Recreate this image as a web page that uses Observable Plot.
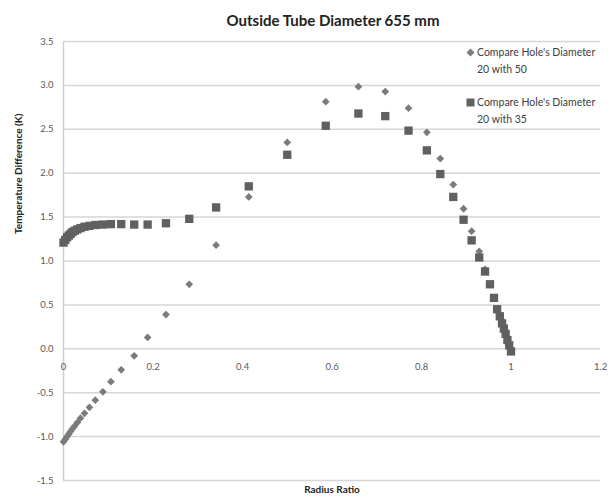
<!DOCTYPE html>
<html>
<head>
<meta charset="utf-8">
<script src="https://cdn.jsdelivr.net/npm/d3@7"></script>
<script src="https://cdn.jsdelivr.net/npm/@observablehq/plot@0.6"></script>
<style>
  html, body { margin: 0; padding: 0; background: #fff; }
  #wrap { position: relative; width: 612px; height: 502px; font-family: Lato, "Open Sans", sans-serif; }
  #legend { position: absolute; left: 466px; top: 44px; font-size: 10.5px; color: #404040; line-height: 16.5px; }
  #legend .item { position: relative; padding-left: 11px; margin-bottom: 17px; white-space: nowrap; }
  #legend svg { position: absolute; left: 0; top: 4px; }
</style>
</head>
<body>
<div id="wrap"></div>
<script>
const title = "Outside Tube Diameter 655 mm";
const xLabel = "Radius Ratio";
const yLabel = "Temperature Difference (K)";
const seriesNames = ["Compare Hole's Diameter 20 with 50", "Compare Hole's Diameter 20 with 35"];

const radiusRatio = [0, 0.004, 0.008, 0.012, 0.016, 0.020, 0.025, 0.031, 0.038, 0.047, 0.058, 0.071, 0.088, 0.106, 0.129, 0.158, 0.188, 0.229, 0.281, 0.341, 0.414, 0.500, 0.586, 0.659, 0.719, 0.771, 0.812, 0.842, 0.871, 0.894, 0.912, 0.929, 0.942, 0.953, 0.962, 0.969, 0.975, 0.980, 0.984, 0.988, 0.992, 0.996, 1.000];
const diff20vs50 = [-1.06, -1.03, -1.00, -0.97, -0.94, -0.91, -0.88, -0.84, -0.79, -0.735, -0.667, -0.585, -0.49, -0.375, -0.24, -0.08, 0.13, 0.39, 0.735, 1.18, 1.73, 2.35, 2.815, 2.985, 2.93, 2.74, 2.466, 2.167, 1.87, 1.595, 1.34, 1.11, 0.905, 0.735, 0.58, 0.45, 0.37, 0.29, 0.23, 0.17, 0.10, 0.04, -0.03];
const diff20vs35 = [1.21, 1.24, 1.27, 1.29, 1.31, 1.33, 1.345, 1.36, 1.375, 1.39, 1.40, 1.41, 1.415, 1.42, 1.42, 1.415, 1.415, 1.43, 1.48, 1.61, 1.85, 2.21, 2.54, 2.68, 2.65, 2.485, 2.26, 1.99, 1.73, 1.47, 1.235, 1.04, 0.88, 0.735, 0.58, 0.45, 0.37, 0.29, 0.23, 0.17, 0.10, 0.04, -0.03];

const xTickValues = [0, 0.2, 0.4, 0.6, 0.8, 1.0, 1.2];
const xTickLabels = ["0", "0.2", "0.4", "0.6", "0.8", "1", "1.2"];
const yTickValues = [-1.5, -1.0, -0.5, 0.0, 0.5, 1.0, 1.5, 2.0, 2.5, 3.0, 3.5];
const yTickLabels = ["-1.5", "-1.0", "-0.5", "0.0", "0.5", "1.0", "1.5", "2.0", "2.5", "3.0", "3.5"];

const colDiamond = "#7b7b7b";
const colSquare = "#606060";
const textCol = "#595959";

const s50 = radiusRatio.map((x, i) => ({x, y: diff20vs50[i]}));
const s35 = radiusRatio.map((x, i) => ({x, y: diff20vs35[i]}));

const chart = Plot.plot({
  width: 612,
  height: 502,
  marginLeft: 63,
  marginRight: 12,
  marginTop: 41,
  marginBottom: 22,
  style: {fontFamily: "Lato, 'Open Sans', sans-serif", background: "white", overflow: "visible"},
  x: {domain: [0, 1.2], axis: null},
  y: {domain: [-1.5, 3.5], axis: null},
  marks: [
    Plot.gridY(yTickValues, {stroke: "#d6d6d6", strokeOpacity: 1, strokeWidth: 1.5}),
    Plot.ruleX([0], {stroke: "#d0d0d0", strokeWidth: 1.5}),
    Plot.axisY(yTickValues, {tickSize: 0, tickPadding: 10, fontSize: 9.5, fill: textCol, label: null,
      tickFormat: d => yTickLabels[yTickValues.indexOf(d)]}),
    Plot.text(xTickValues, {x: d => d, y: () => 0, text: (d, i) => xTickLabels[i], dy: 18, fontSize: 9.5, fill: textCol}),
    Plot.dot(s50, {x: "x", y: "y", symbol: "diamond2", r: 3.5, fill: colDiamond, stroke: "none"}),
    Plot.dot(s35, {x: "x", y: "y", symbol: "square", r: 4.7, fill: colSquare, stroke: "none"}),
    Plot.text([title], {frameAnchor: "top", dy: -26, dx: 1, fontSize: 15, fontWeight: "bold", fill: "#222"}),
    Plot.text([xLabel], {frameAnchor: "bottom", dy: 12, fontSize: 10, fontWeight: "bold", fill: "#222"}),
    Plot.text([yLabel], {frameAnchor: "left", rotate: -90, dx: -45, dy: -27, fontSize: 10, fontWeight: "bold", fill: "#222"})
  ]
});

const wrap = document.getElementById("wrap");
wrap.appendChild(chart);

const legend = document.createElement("div");
legend.id = "legend";
const lines = [["Compare Hole's Diameter", "20 with 50"], ["Compare Hole's Diameter", "20 with 35"]];
const icons = [
  `<svg width="9" height="9" viewBox="0 0 9 9"><polygon points="4.5,0.5 8.5,4.5 4.5,8.5 0.5,4.5" fill="${colDiamond}"/></svg>`,
  `<svg width="9" height="9" viewBox="0 0 9 9"><rect x="0.5" y="0.5" width="8" height="8" fill="${colSquare}"/></svg>`
];
lines.forEach((l, i) => {
  const it = document.createElement("div");
  it.className = "item";
  it.innerHTML = icons[i] + `<div>${l[0]}</div><div>${l[1]}</div>`;
  legend.appendChild(it);
});
wrap.appendChild(legend);
</script>
</body>
</html>
